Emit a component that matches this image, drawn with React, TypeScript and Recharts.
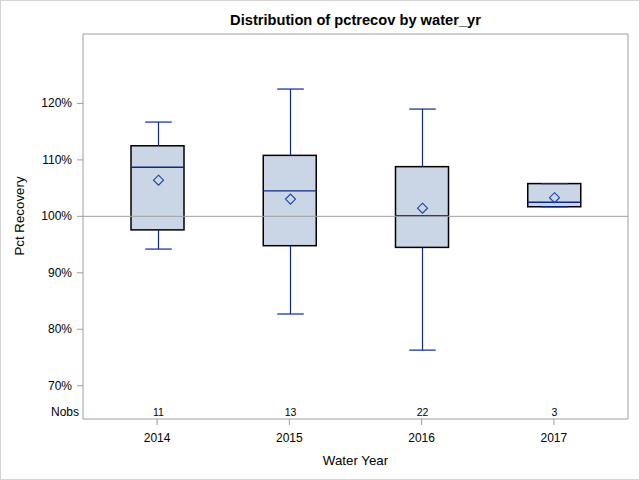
import React from "react";
import { ComposedChart, Bar, XAxis, YAxis, ReferenceLine } from "recharts";

// box plot of pctrecov by water year
const years = ["2014", "2015", "2016", "2017"];
const whiskerLow = [94.2, 82.7, 76.3, 101.7];
const q1 = [97.6, 94.8, 94.5, 101.7];
const median = [108.7, 104.5, 100.1, 102.5];
const q3 = [112.5, 110.8, 108.8, 105.8];
const whiskerHigh = [116.7, 122.55, 119.0, 105.8];
const mean = [106.4, 103.05, 101.45, 103.3];
const nobs = [11, 13, 22, 3];

const yTicks = [70, 80, 90, 100, 110, 120];
const NOBS_ROW = 65.4; // where the Nobs row sits on the value axis

const data = years.map((year, i) => ({
  year,
  range: [whiskerLow[i], whiskerHigh[i]],
  lo: whiskerLow[i],
  q1: q1[i],
  median: median[i],
  q3: q3[i],
  hi: whiskerHigh[i],
  mean: mean[i],
  nobs: nobs[i],
}));

const FONT = "'Liberation Sans', Arial, sans-serif";
const BLUE = "#0a2a8a";
const AXIS = "#9a9ea3";

const BoxShape = (props: any) => {
  const { x, y, width, height, payload } = props;
  const { lo, hi } = payload;
  // map a value to pixels using the bar's own [lo, hi] extent
  const py = (v: number) => y + ((hi - v) / (hi - lo)) * height;
  const cx = Math.round(x + width / 2) + 0.5;
  const cap = width / 4;
  const yQ1 = py(payload.q1);
  const yQ3 = py(payload.q3);
  const yMed = py(payload.median);
  const yMean = py(payload.mean);
  const d = 5;
  return (
    <g>
      <rect x={x} y={yQ3} width={width} height={yQ1 - yQ3} fill="#cad5e5" stroke="#000" strokeWidth={1.5} />
      <line x1={cx} x2={cx} y1={py(hi)} y2={yQ3} stroke={BLUE} strokeWidth={1.2} />
      <line x1={cx} x2={cx} y1={yQ1} y2={py(lo)} stroke={BLUE} strokeWidth={1.2} />
      <line x1={cx - cap} x2={cx + cap} y1={py(hi)} y2={py(hi)} stroke={BLUE} strokeWidth={1.2} />
      <line x1={cx - cap} x2={cx + cap} y1={py(lo)} y2={py(lo)} stroke={BLUE} strokeWidth={1.2} />
      <line x1={x} x2={x + width} y1={yMed} y2={yMed} stroke={BLUE} strokeWidth={1.3} />
      <path
        d={`M${cx},${yMean - d}L${cx + d},${yMean}L${cx},${yMean + d}L${cx - d},${yMean}Z`}
        fill="none"
        stroke="#1e40a8"
        strokeWidth={1.1}
      />
      <text x={cx} y={py(NOBS_ROW)} textAnchor="middle" dominantBaseline="central" fontSize={10.5} fontFamily={FONT} fill="#000">
        {payload.nobs}
      </text>
    </g>
  );
};

const YTick = (props: any) => {
  const { x, y, payload } = props;
  if (payload.value === NOBS_ROW) {
    return (
      <text x={x + 7} y={y} textAnchor="end" dominantBaseline="central" fontSize={12} fontFamily={FONT} fill="#000">
        Nobs
      </text>
    );
  }
  return (
    <g>
      <line x1={x + 5} x2={x + 11} y1={y} y2={y} stroke={AXIS} />
      <text x={x} y={y} textAnchor="end" dominantBaseline="central" fontSize={12} fontFamily={FONT} fill="#000">
        {payload.value}%
      </text>
    </g>
  );
};

const YLabel = () => (
  <text x={18} y={215} transform="rotate(-90 18 215)" textAnchor="middle" dominantBaseline="central" fontSize={13.3} fontFamily={FONT} fill="#000">
    Pct Recovery
  </text>
);

export default function App() {
  return (
    <div
      style={{
        position: "absolute",
        left: 0,
        top: 0,
        width: 640,
        height: 480,
        border: "1px solid #d3d3d3",
        boxSizing: "border-box",
        background: "#fff",
      }}
    >
      <div
        style={{
          position: "absolute",
          left: 82,
          width: 545,
          top: 10,
          textAlign: "center",
          fontFamily: FONT,
          fontWeight: "bold",
          fontSize: 14.67,
          lineHeight: "18px",
          color: "#000",
        }}
      >
        Distribution of pctrecov by water_yr
      </div>
      <ComposedChart
        width={638}
        height={478}
        data={data}
        margin={{ top: 32, right: 10, bottom: 0, left: 0 }}
      >
        <XAxis
          dataKey="year"
          padding={{ left: 8, right: 8 }}
          height={60}
          stroke={AXIS}
          tickSize={6}
          tickMargin={8}
          tick={{ fill: "#000", fontSize: 12, fontFamily: FONT }}
          label={{ value: "Water Year", position: "insideBottom", offset: 14, fill: "#000", fontSize: 13.3, fontFamily: FONT }}
        />
        <XAxis xAxisId="top" dataKey="year" orientation="top" height={1} tick={false} tickLine={false} stroke={AXIS} />
        <YAxis
          type="number"
          domain={[64.1, 132.3]}
          ticks={[NOBS_ROW, ...yTicks]}
          width={82}
          stroke={AXIS}
          tickLine={false}
          tickSize={6}
          tickMargin={5}
          tick={<YTick />}
          label={<YLabel />}
          allowDataOverflow
        />
        <YAxis yAxisId="right" orientation="right" width={1} tick={false} tickLine={false} stroke={AXIS} domain={[0, 1]} />
        <Bar dataKey="range" barSize={53} shape={<BoxShape />} isAnimationActive={false} />
        <ReferenceLine y={100} stroke="#a0a0a0" strokeWidth={1} />
      </ComposedChart>
    </div>
  );
}
